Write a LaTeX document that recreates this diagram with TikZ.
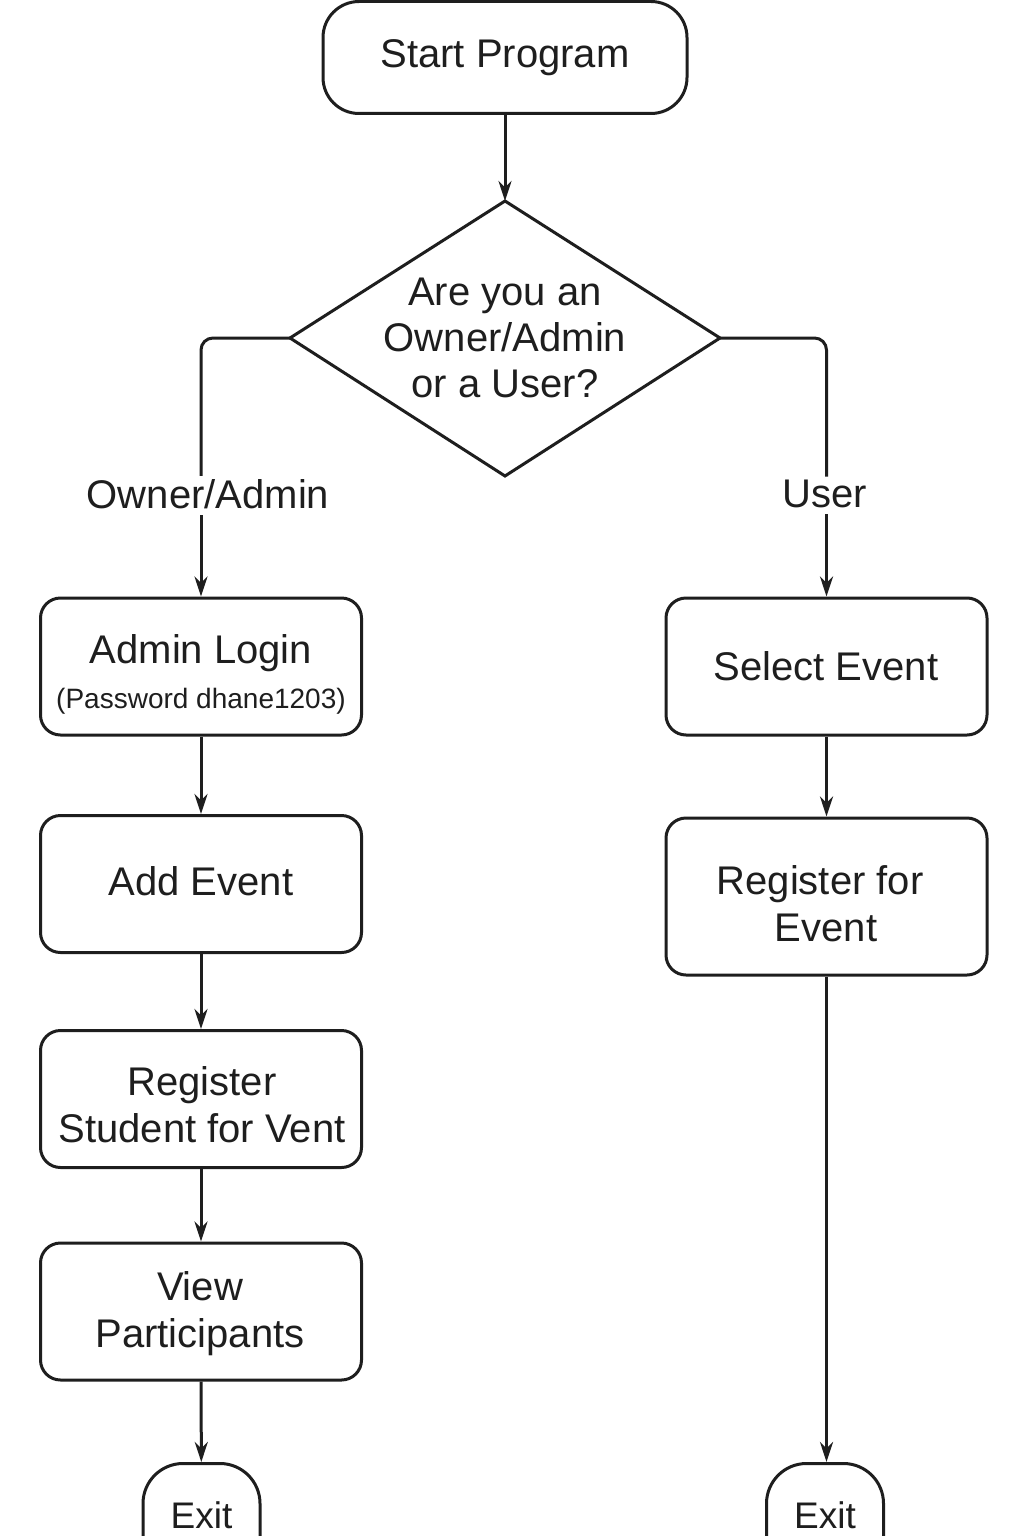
\documentclass[tikz,border=0pt]{standalone}
\usepackage{fontspec}
\setmainfont{Liberation Sans}
\usetikzlibrary{arrows.meta,calc}
\definecolor{ink}{HTML}{1E1E1E}
\tikzset{
  ln/.style={draw=ink,line width=1.5pt},
  arr/.style={ln,-{Stealth[length=10pt,width=6.5pt]}},
  box/.style={ln,rounded corners=10pt,minimum width=160.5pt,minimum height=68.5pt,inner sep=0pt},
  txt/.style={align=center,inner sep=0pt,font=\fontsize{20}{23.5}\selectfont,text=ink},
  startbox/.style={ln,rounded corners=18pt,minimum width=182pt,minimum height=56pt,font=\fontsize{20}{23.5}\selectfont,text=ink},
  lab/.style={font=\fontsize{20}{23.5}\selectfont,text=ink,inner sep=0pt},
  exitbox/.style={ln,rounded corners=20pt,minimum width=58.5pt,font=\fontsize{18.5}{20}\selectfont,text=ink,text height=13pt,text depth=40pt,inner ysep=19.5pt,inner xsep=0pt},
}
\begin{document}
\begin{tikzpicture}[x=0.5pt,y=-0.5pt]
\useasboundingbox (0,0) rectangle (1024,1536);
\clip (0,0) rectangle (1024,1536);
\fill[white] (0,0) rectangle (1024,1536);

\node[startbox] (start) at (505,57.5) {Start Program};

\coordinate (dT) at (505,201);
\coordinate (dL) at (290,338);
\coordinate (dR) at (720,338);
\coordinate (dB) at (505,476);
\draw[ln,line join=miter] (dT) -- (dR) -- (dB) -- (dL) -- cycle;
\node[txt,font=\fontsize{20}{23}\selectfont] (q) at (505,338) {Are you an\\Owner/Admin\\or a User?};

\node[box] (login) at (201,666.5) {};
\node[txt] (loginT) at (201,674) {Admin Login\\[-1pt]{\fontsize{14}{16}\selectfont(Password dhane1203)}};
\node[box] (add) at (201,884) {};
\node[txt] (addT) at (201,881) {Add Event};
\node[box] (reg) at (201,1099) {};
\node[txt] (regT) at (202,1105) {Register\\Student for Vent};
\node[box] (view) at (201,1311.5) {};
\node[txt] (viewT) at (200,1314) {View\\Participants};
\node[exitbox,anchor=north] (exitL) at (201.5,1462) {Exit};

\node[box] (sel) at (826.5,666.5) {};
\node[txt] (selT) at (826,666) {Select Event};
\node[box,minimum height=78.5pt] (regu) at (826.5,896.5) {};
\node[txt] (reguT) at (820,904) {Register for\\\hspace*{6pt}Event};
\node[exitbox,anchor=north] (exitR) at (825,1462) {Exit};

\node[lab] (labOA) at (208,494) {Owner/Admin};
\node[lab] (labU) at (825,494) {User};

\draw[arr] (start) -- (dT);
\draw[ln,rounded corners=6pt] (dL) -| ($(login.north |- labOA.north)+(0,-3)$);
\draw[arr] ($(login.north |- labOA.south)+(0,6)$) -- (login.north);
\draw[ln,rounded corners=6pt] (dR) -| ($(sel.north |- labU.north)+(0,-3)$);
\draw[arr] ($(sel.north |- labU.south)+(0,6)$) -- (sel.north);

\draw[arr] (login) -- (add);
\draw[arr] (add) -- (reg);
\draw[arr] (reg) -- (view);
\draw[arr] (view) -- (exitL);
\draw[arr] (sel) -- (regu);
\draw[arr] (regu.south) -- (regu.south |- exitR.north);
\end{tikzpicture}
\end{document}
